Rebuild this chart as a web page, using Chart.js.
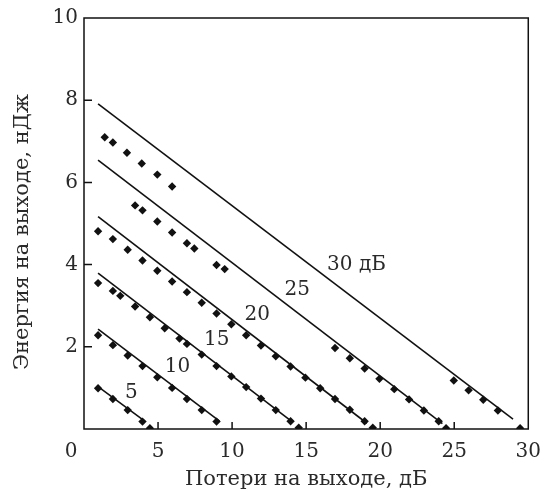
<!DOCTYPE html>
<html>
<head>
<meta charset="utf-8">
<script src="https://cdn.jsdelivr.net/npm/chart.js@4/dist/chart.umd.min.js"></script>
<style>
  html, body { margin: 0; padding: 0; background: #fff; }
  #box { width: 552px; height: 492px; }
</style>
</head>
<body>
<div id="box"><canvas id="energy"></canvas></div>
<script>
// tick values
const xTicks = [0, 5, 10, 15, 20, 25, 30];
const yTicks = [0, 2, 4, 6, 8, 10];

// straight fitted lines, one per input loss (5, 10, 15, 20, 25, 30 dB)
const seriesNames = ["5", "10", "15", "20", "25", "30 дБ"];
const fitStartX = [0.95, 0.95, 0.95, 0.95, 0.95, 0.95];
const fitStartY = [1.03, 2.43, 3.79, 5.17, 6.54, 7.91];
const fitEndX = [4.1, 9.15, 14.0, 19.1, 24.2, 28.97];
const fitEndY = [0.19, 0.19, 0.19, 0.14, 0.13, 0.24];

// measured points
const meas5X = [0.95, 1.95, 2.95, 3.95, 4.45];
const meas5Y = [0.99, 0.73, 0.46, 0.18, 0.02];

const meas10X = [0.95, 1.95, 2.95, 3.95, 4.95, 5.95, 6.95, 7.95, 8.95];
const meas10Y = [2.28, 2.04, 1.79, 1.53, 1.26, 1.0, 0.73, 0.46, 0.18];

const meas15X = [0.95, 1.95, 2.45, 3.45, 4.45, 5.45, 6.45, 6.95, 7.95, 8.95, 9.95, 10.95, 11.95, 12.95, 13.95, 14.5];
const meas15Y = [3.55, 3.36, 3.24, 2.98, 2.72, 2.45, 2.2, 2.07, 1.81, 1.53, 1.28, 1.02, 0.74, 0.46, 0.19, 0.03];

const meas20X = [0.95, 1.95, 2.95, 3.95, 4.95, 5.95, 6.95, 7.95, 8.95, 9.95, 10.95, 11.95, 12.95, 13.95, 14.95, 15.95, 16.95, 17.95, 18.95, 19.5];
const meas20Y = [4.81, 4.62, 4.36, 4.1, 3.85, 3.59, 3.33, 3.07, 2.81, 2.55, 2.28, 2.03, 1.77, 1.52, 1.25, 0.99, 0.73, 0.47, 0.19, 0.03];

const meas25X = [3.45, 3.95, 4.95, 5.95, 6.95, 7.45, 8.95, 9.5, 16.95, 17.95, 18.95, 19.95, 20.95, 21.95, 22.95, 23.95, 24.45];
const meas25Y = [5.44, 5.32, 5.05, 4.78, 4.52, 4.39, 3.99, 3.89, 1.97, 1.72, 1.47, 1.22, 0.97, 0.72, 0.45, 0.19, 0.02];

const meas30X = [1.4, 1.95, 2.9, 3.9, 4.95, 5.95, 24.97, 25.97, 26.96, 27.95, 29.45];
const meas30Y = [7.1, 6.97, 6.72, 6.46, 6.19, 5.9, 1.18, 0.94, 0.71, 0.45, 0.02];

const measX = [meas5X, meas10X, meas15X, meas20X, meas25X, meas30X];
const measY = [meas5Y, meas10Y, meas15Y, meas20Y, meas25Y, meas30Y];

const ink = "#111";
const textInk = "#2a2a2a";
const serif = "'DejaVu Serif', 'Liberation Serif', serif";

function zip(xs, ys) {
  return xs.map((x, i) => ({ x: x, y: ys[i] }));
}

let datasets = [];
for (let i = 0; i < seriesNames.length; i++) {
  datasets.push({
    label: seriesNames[i] + " fit",
    data: [
      { x: fitStartX[i], y: fitStartY[i] },
      { x: fitEndX[i], y: fitEndY[i] },
    ],
    showLine: true,
    borderColor: ink,
    borderWidth: 1.6,
    pointRadius: 0,
  });
  datasets.push({
    label: seriesNames[i],
    data: zip(measX[i], measY[i]),
    showLine: false,
    pointStyle: "rectRot",
    pointRadius: 4.2,
    backgroundColor: ink,
    borderColor: ink,
    borderWidth: 0,
  });
}

// curve labels, placed in data units
const curveTags = {
  text: seriesNames,
  x: [3.19, 6.32, 8.97, 11.7, 14.4, 18.4],
  y: [0.88, 1.52, 2.17, 2.77, 3.38, 4.0],
};

const frameAndTicks = {
  id: "frameAndTicks",
  afterDraw(chart) {
    const c = chart.ctx;
    const a = chart.chartArea;
    const sx = chart.scales.x;
    const sy = chart.scales.y;
    c.save();
    c.strokeStyle = ink;
    c.lineWidth = 1.5;
    c.strokeRect(a.left, a.top, a.right - a.left, a.bottom - a.top);
    c.beginPath();
    xTicks.slice(1, -1).forEach((v) => {
      const px = sx.getPixelForValue(v);
      c.moveTo(px, a.bottom);
      c.lineTo(px, a.bottom - 7);
    });
    yTicks.slice(1, -1).forEach((v) => {
      const py = sy.getPixelForValue(v);
      c.moveTo(a.left, py);
      c.lineTo(a.left + 8, py);
    });
    c.stroke();

    c.fillStyle = textInk;
    c.font = "20px " + serif;
    c.textAlign = "center";
    c.textBaseline = "middle";
    // shared origin label
    c.fillText("0", sx.getPixelForValue(0) - 13, a.bottom + 23);
    curveTags.text.forEach((t, i) => {
      c.fillText(t, sx.getPixelForValue(curveTags.x[i]), sy.getPixelForValue(curveTags.y[i]));
    });

    // y axis title, rotated
    c.font = "21px " + serif;
    c.translate(23, 232);
    c.rotate(-Math.PI / 2);
    c.fillText("Энергия на выходе, нДж", 0, 0);
    c.restore();
  },
};

new Chart(document.getElementById("energy"), {
  type: "scatter",
  data: { datasets: datasets },
  options: {
    responsive: true,
    maintainAspectRatio: false,
    animation: false,
    layout: { padding: { top: 18, right: 14, left: 0, bottom: 0 } },
    plugins: {
      legend: { display: false },
      tooltip: { enabled: false },
    },
    scales: {
      x: {
        type: "linear",
        min: 0,
        max: 30,
        afterBuildTicks: (s) => { s.ticks = xTicks.map((v) => ({ value: v })); },
        afterFit: (s) => { s.height = 63; },
        grid: { display: false, drawTicks: false },
        border: { display: false },
        title: {
          display: true,
          text: "Потери на выходе, дБ",
          color: textInk,
          font: { family: serif, size: 21, lineHeight: 1.2 },
          padding: { top: 0, bottom: 0 },
        },
        ticks: {
          color: textInk,
          padding: 11,
          maxRotation: 0,
          font: { family: serif, size: 20 },
          callback: (v) => (v === 0 ? "" : v),
        },
      },
      y: {
        type: "linear",
        min: 0,
        max: 10,
        afterBuildTicks: (s) => { s.ticks = yTicks.map((v) => ({ value: v })); },
        afterFit: (s) => { s.width = 84; },
        grid: { display: false, drawTicks: false },
        border: { display: false },
        ticks: {
          color: textInk,
          padding: 6,
          font: { family: serif, size: 20 },
          callback: (v) => (v === 0 ? "" : v),
        },
      },
    },
  },
  plugins: [frameAndTicks],
});
</script>
</body>
</html>
